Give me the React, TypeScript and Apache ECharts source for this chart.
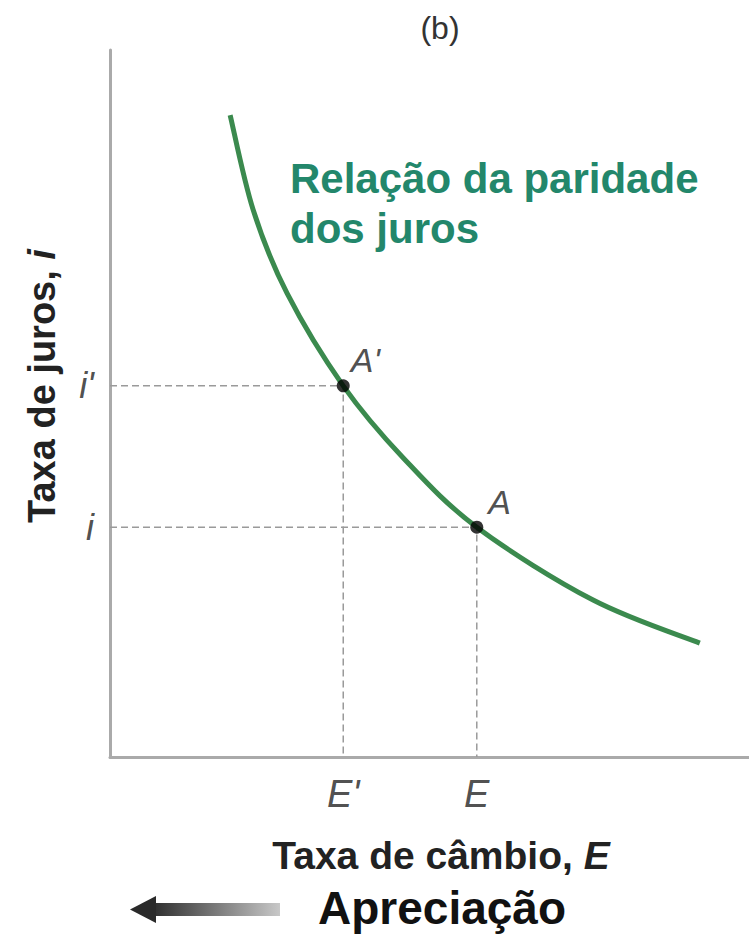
import React, { useEffect, useRef } from "react";
import * as echarts from "echarts";

// Interest parity curve (abstract units, x: exchange rate E, y: interest rate i)
const curveX = [1.88, 2.24, 2.77, 3.65, 4.59, 5.74, 7.56, 9.23];
const curveY = [9.08, 7.74, 6.56, 5.25, 4.23, 3.25, 2.22, 1.61];

const pointNames = ["A'", "A"];
const pointX = [3.65, 5.74];
const pointY = [5.25, 3.25];
const xTickLabels = ["E'", "E"];
const yTickLabels = ["i'", "i"];

const FONT = "'Liberation Sans', Arial, sans-serif";

export default function App() {
  const ref = useRef<HTMLDivElement>(null);
  useEffect(() => {
    if (!ref.current) return;
    const chart = echarts.init(ref.current, undefined, { renderer: "svg" });

    const dashed: any[] = [];
    pointX.forEach((px, k) => {
      dashed.push({
        type: "line",
        data: [
          [0, pointY[k]],
          [px, pointY[k]],
          [px, 0],
        ],
        symbol: "none",
        lineStyle: { color: "#9a9a9a", width: 1.5, type: [7, 4] },
        z: 1,
        silent: true,
      });
    });

    const renderCurve = (params: any, api: any) => {
      if (params.dataIndex !== 0) return null;
      const pts = curveX.map((x, k) => api.coord([x, curveY[k]]));
      let d = `M${pts[0][0]},${pts[0][1]}`;
      for (let k = 0; k < pts.length - 1; k++) {
        const p0 = pts[Math.max(0, k - 1)];
        const p1 = pts[k];
        const p2 = pts[k + 1];
        const p3 = pts[Math.min(pts.length - 1, k + 2)];
        const c1x = p1[0] + (p2[0] - p0[0]) / 6;
        const c1y = p1[1] + (p2[1] - p0[1]) / 6;
        const c2x = p2[0] - (p3[0] - p1[0]) / 6;
        const c2y = p2[1] - (p3[1] - p1[1]) / 6;
        d += ` C${c1x},${c1y} ${c2x},${c2y} ${p2[0]},${p2[1]}`;
      }
      return {
        type: "path",
        shape: { pathData: d },
        style: { fill: "none", stroke: "#3b8a4e", lineWidth: 5 },
      };
    };

    chart.setOption({
      animation: false,
      backgroundColor: "#ffffff",
      grid: { left: 110, right: 0, top: 50, bottom: 177 },
      xAxis: {
        type: "value",
        min: 0,
        max: 10,
        axisLine: { show: true, lineStyle: { color: "#aaaaaa", width: 3 } },
        axisTick: { show: false },
        axisLabel: { show: false },
        splitLine: { show: false },
      },
      yAxis: {
        type: "value",
        min: 0,
        max: 10,
        axisLine: { show: true, lineStyle: { color: "#aaaaaa", width: 3 } },
        axisTick: { show: false },
        axisLabel: { show: false },
        splitLine: { show: false },
      },
      series: [
        ...dashed,
        {
          type: "custom",
          renderItem: renderCurve,
          data: curveX.map((x, k) => [x, curveY[k]]),
          encode: { x: 0, y: 1 },
          clip: false,
          silent: true,
          z: 3,
        },
        {
          type: "scatter",
          data: pointX.map((x, k) => ({
            value: [x, pointY[k]],
            label: {
              formatter: pointNames[k],
              offset: k === 0 ? [-4, -26] : [0, -25],
            },
          })),
          symbolSize: 13,
          itemStyle: { color: "#000000" },
          label: {
            show: true,
            position: "right",
            fontFamily: FONT,
            fontStyle: "italic",
            fontSize: 34,
            color: "#222",
          },
          z: 5,
        },
        {
          type: "scatter",
          data: pointX.map((x, k) => ({ value: [x, 0], label: { formatter: xTickLabels[k] } })),
          symbolSize: 0,
          label: {
            show: true,
            position: "bottom",
            distance: 18,
            fontFamily: FONT,
            fontStyle: "italic",
            fontSize: 38,
            color: "#222",
          },
          silent: true,
        },
        {
          type: "scatter",
          data: pointY.map((y, k) => ({ value: [0, y], label: { formatter: yTickLabels[k] } })),
          symbolSize: 0,
          label: {
            show: true,
            position: "left",
            distance: 16,
            fontFamily: FONT,
            fontStyle: "italic",
            fontSize: 36,
            color: "#222",
          },
          silent: true,
        },
      ],
      graphic: [
        {
          type: "text",
          x: 440,
          y: 28,
          style: {
            text: "(b)",
            font: `32px ${FONT}`,
            fill: "#333",
            textAlign: "center",
            textVerticalAlign: "middle",
          },
        },
        {
          type: "text",
          x: 290,
          y: 178,
          style: {
            text: "Relação da paridade",
            font: `bold 42px ${FONT}`,
            fill: "#23876b",
            textAlign: "left",
            textVerticalAlign: "middle",
          },
        },
        {
          type: "text",
          x: 290,
          y: 228,
          style: {
            text: "dos juros",
            font: `bold 42px ${FONT}`,
            fill: "#23876b",
            textAlign: "left",
            textVerticalAlign: "middle",
          },
        },
        {
          type: "text",
          x: 42,
          y: 386,
          rotation: Math.PI / 2,
          style: {
            text: "Taxa de juros, {it|i}",
            fontFamily: FONT,
            fontWeight: "bold",
            fontSize: 38,
            fill: "#222",
            textAlign: "center",
            textVerticalAlign: "middle",
            rich: {
              it: { fontFamily: FONT, fontWeight: "bold", fontStyle: "italic", fontSize: 38, fill: "#222" },
            },
          },
        },
        {
          type: "text",
          x: 441,
          y: 855,
          style: {
            text: "Taxa de câmbio, {it|E}",
            fontFamily: FONT,
            fontWeight: "bold",
            fontSize: 39,
            fill: "#222",
            textAlign: "center",
            textVerticalAlign: "middle",
            rich: {
              it: { fontFamily: FONT, fontWeight: "bold", fontStyle: "italic", fontSize: 39, fill: "#222" },
            },
          },
        },
        {
          type: "text",
          x: 442,
          y: 908,
          style: {
            text: "Apreciação",
            font: `bold 46px ${FONT}`,
            fill: "#111",
            textAlign: "center",
            textVerticalAlign: "middle",
          },
        },
        {
          type: "rect",
          shape: { x: 150, y: 903, width: 130, height: 13 },
          style: {
            fill: new echarts.graphic.LinearGradient(0, 0, 1, 0, [
              { offset: 0, color: "#2a2a2a" },
              { offset: 1, color: "#c8c8c8" },
            ]),
          },
        },
        {
          type: "polygon",
          shape: {
            points: [
              [130, 909.5],
              [156, 896],
              [156, 923],
            ],
          },
          style: { fill: "#2a2a2a" },
        },
      ],
    });
    return () => chart.dispose();
  }, []);
  return (
    <div
      ref={ref}
      style={{ position: "fixed", left: 0, top: 0, width: 749, height: 934 }}
    />
  );
}
